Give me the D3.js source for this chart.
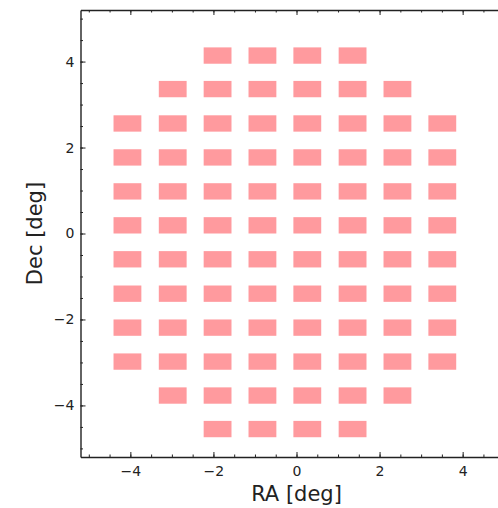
<!DOCTYPE html>
<html>
<head>
<meta charset="utf-8">
<script src="https://cdn.jsdelivr.net/npm/d3@7"></script>
<style>
  body { margin: 0; background: #fff; }
  svg { display: block; font-family: "DejaVu Sans", sans-serif; }
</style>
</head>
<body>
<svg class="chart"></svg>
<script>
let width = 498,
  height = 508;

// chip centres (deg)
const raCols = [-4.07, -2.98, -1.90, -0.82, 0.26, 1.35, 2.43, 3.51];
const decRows = [4.14, 3.36, 2.56, 1.77, 0.98, 0.19, -0.60, -1.40, -2.19, -2.98, -3.77, -4.55];
// which columns are filled on each row
const rowFirstCol = [2, 1, 0, 0, 0, 0, 0, 0, 0, 0, 1, 2];
const rowLastCol = [5, 6, 7, 7, 7, 7, 7, 7, 7, 7, 6, 5];
// chip size in deg
const chipW = 0.67,
  chipH = 0.38;

const xTicks = [-4, -2, 0, 2, 4];
const yTicks = [-4, -2, 0, 2, 4];
const minorTicks = d3.range(-5, 5.01, 0.5);

let chips = [];
decRows.forEach((dec, i) => {
  for (let c = rowFirstCol[i]; c <= rowLastCol[i]; c++) {
    chips.push({ ra: raCols[c], dec: dec });
  }
});

let svg = d3.select(".chart").attr("width", width).attr("height", height);

let plotLeft = 80.5,
  plotRight = 512.5,
  plotTop = 10,
  plotBottom = 457;

let x = d3.scaleLinear().domain([-5.2, 5.2]).range([plotLeft, plotRight]);
let y = d3.scaleLinear().domain([-5.2, 5.2]).range([plotBottom, plotTop]);

// chips
svg
  .append("g")
  .attr("id", "chips")
  .selectAll("rect")
  .data(chips)
  .enter()
  .append("rect")
  .attr("x", (d) => x(d.ra - chipW / 2))
  .attr("y", (d) => y(d.dec + chipH / 2))
  .attr("width", (d) => x(d.ra + chipW / 2) - x(d.ra - chipW / 2))
  .attr("height", (d) => y(d.dec - chipH / 2) - y(d.dec + chipH / 2))
  .attr("fill", "#ff9a9e");

// axes, ticks pointing inwards
function styleAxis(g) {
  g.selectAll("path").attr("stroke", "#222").attr("stroke-width", 1.4);
  g.selectAll("line").attr("stroke", "#222").attr("stroke-width", 1);
  g.selectAll("text")
    .attr("font-family", "DejaVu Sans, sans-serif")
    .attr("font-size", 14)
    .attr("fill", "#222");
}

function minor(axis, pos, tf) {
  svg
    .append("g")
    .attr("transform", tf)
    .call(axis(pos).tickValues(minorTicks).tickSize(-2.5).tickSizeOuter(0).tickFormat(""))
    .call((g) => g.select(".domain").remove())
    .call((g) => g.selectAll("line").attr("stroke", "#222"));
}

minor(d3.axisBottom, x, `translate(0,${plotBottom})`);
minor(d3.axisTop, x, `translate(0,${plotTop})`);
minor(d3.axisLeft, y, `translate(${plotLeft},0)`);
minor(d3.axisRight, y, `translate(${plotRight},0)`);

svg
  .append("g")
  .attr("transform", `translate(0,${plotBottom})`)
  .call(d3.axisBottom(x).tickValues(xTicks).tickSize(-5).tickSizeOuter(0).tickPadding(9))
  .call(styleAxis);

svg
  .append("g")
  .attr("transform", `translate(0,${plotTop})`)
  .call(d3.axisTop(x).tickValues(xTicks).tickSize(-5).tickSizeOuter(0).tickFormat(""))
  .call(styleAxis);

svg
  .append("g")
  .attr("transform", `translate(${plotLeft},0)`)
  .call(d3.axisLeft(y).tickValues(yTicks).tickSize(-5).tickSizeOuter(0).tickPadding(6))
  .call(styleAxis);

svg
  .append("g")
  .attr("transform", `translate(${plotRight},0)`)
  .call(d3.axisRight(y).tickValues(yTicks).tickSize(-5).tickSizeOuter(0).tickFormat(""))
  .call(styleAxis);

// axis labels
svg
  .append("text")
  .attr("x", x(0))
  .attr("y", 501)
  .attr("text-anchor", "middle")
  .attr("font-size", 21)
  .attr("fill", "#222")
  .text("RA [deg]");

svg
  .append("text")
  .attr("transform", `translate(42,${y(0)}) rotate(-90)`)
  .attr("text-anchor", "middle")
  .attr("font-size", 21)
  .attr("fill", "#222")
  .text("Dec [deg]");
</script>
</body>
</html>
